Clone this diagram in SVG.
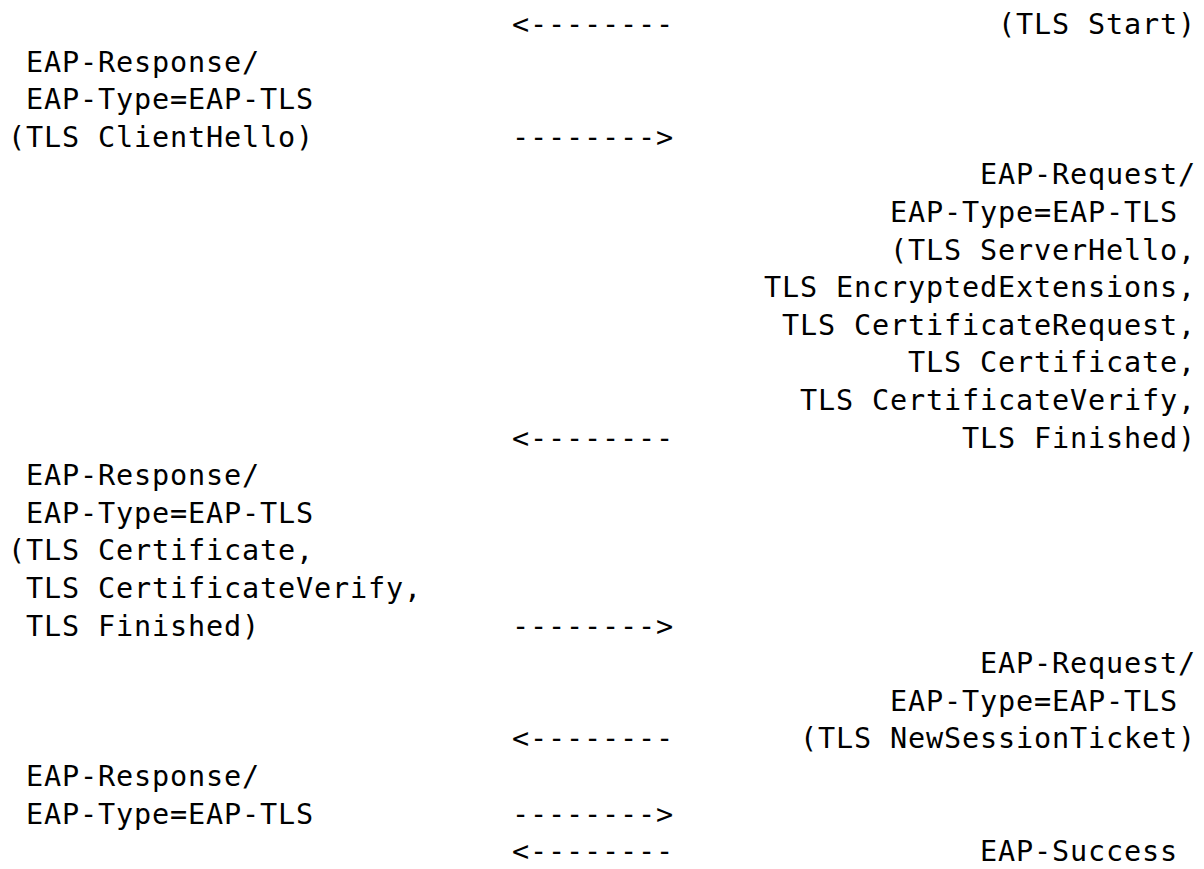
<svg xmlns="http://www.w3.org/2000/svg" width="1204" height="869" viewBox="0 0 1204 869">
  <style>
    text { font-family: "DejaVu Sans Mono", "Liberation Mono", monospace; font-size: 28.5px; letter-spacing: 0.84px; fill: #000; }
  </style>
  <rect x="0" y="0" width="1204" height="869" fill="#fff"/>
  <g id="peer">
    <text x="26" y="71.6">EAP-Response/</text>
    <text x="26" y="109.2">EAP-Type=EAP-TLS</text>
    <text x="8" y="146.8">(TLS ClientHello)</text>
    <text x="26" y="485.2">EAP-Response/</text>
    <text x="26" y="522.8">EAP-Type=EAP-TLS</text>
    <text x="8" y="560.4">(TLS Certificate,</text>
    <text x="26" y="598">TLS CertificateVerify,</text>
    <text x="26" y="635.6">TLS Finished)</text>
    <text x="26" y="786">EAP-Response/</text>
    <text x="26" y="823.6">EAP-Type=EAP-TLS</text>
  </g>
  <g id="server">
    <text x="998" y="34">(TLS Start)</text>
    <text x="980" y="184.4">EAP-Request/</text>
    <text x="890" y="222">EAP-Type=EAP-TLS</text>
    <text x="890" y="259.6">(TLS ServerHello,</text>
    <text x="764" y="297.2">TLS EncryptedExtensions,</text>
    <text x="782" y="334.8">TLS CertificateRequest,</text>
    <text x="908" y="372.4">TLS Certificate,</text>
    <text x="800" y="410">TLS CertificateVerify,</text>
    <text x="962" y="447.6">TLS Finished)</text>
    <text x="980" y="673.2">EAP-Request/</text>
    <text x="890" y="710.8">EAP-Type=EAP-TLS</text>
    <text x="800" y="748.4">(TLS NewSessionTicket)</text>
    <text x="980" y="861.2">EAP-Success</text>
  </g>
  <g id="connectors">
    <text x="512" y="34">&lt;--------</text>
    <text x="512" y="146.8">--------&gt;</text>
    <text x="512" y="447.6">&lt;--------</text>
    <text x="512" y="635.6">--------&gt;</text>
    <text x="512" y="748.4">&lt;--------</text>
    <text x="512" y="823.6">--------&gt;</text>
    <text x="512" y="861.2">&lt;--------</text>
  </g>
</svg>
